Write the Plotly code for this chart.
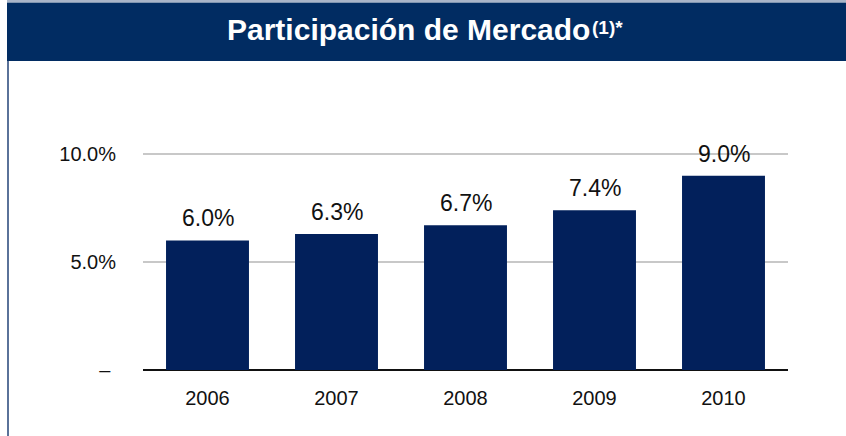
import plotly.graph_objects as go

# Participación de Mercado, 2006-2010
years = ["2006", "2007", "2008", "2009", "2010"]
share = [6.0, 6.3, 6.7, 7.4, 9.0]
labels = ["6.0%", "6.3%", "6.7%", "7.4%", "9.0%"]
y_ticks = [0, 5, 10]
y_tick_labels = ["–\u00a0", "5.0%", "10.0%"]

W, H = 846, 436
ML, MR, MT, MB = 143, 58, 153, 66
pw, ph = W - ML - MR, H - MT - MB


def px_x(p):
    return (p - ML) / pw


def px_y(p):
    return (H - MB - p) / ph


NAVY_BAR = "#02205b"
NAVY_HEAD = "#012c62"
FONT = "Liberation Sans, Arial, sans-serif"

fig = go.Figure()

fig.add_trace(go.Bar(
    x=years,
    y=share,
    marker=dict(color=NAVY_BAR, line=dict(width=0)),
    hoverinfo="skip",
    showlegend=False,
))

# valores encima de cada barra (x = indice de categoria)
for i, (v, t) in enumerate(zip(share, labels)):
    fig.add_annotation(
        x=i, y=v, text=t, showarrow=False,
        yanchor="bottom", yshift=7,
        font=dict(family=FONT, size=23, color="#111111"),
    )

# banda del titulo
fig.add_shape(type="rect", xref="paper", yref="paper",
              x0=px_x(7), x1=px_x(W + 2), y0=px_y(61), y1=px_y(2.5),
              fillcolor=NAVY_HEAD, line=dict(width=0), layer="below")
fig.add_shape(type="line", xref="paper", yref="paper",
              x0=px_x(7), x1=px_x(W + 2), y0=px_y(1), y1=px_y(1),
              line=dict(color="#a9b5c8", width=2))
# borde izquierdo
fig.add_shape(type="line", xref="paper", yref="paper",
              x0=px_x(8), x1=px_x(8), y0=px_y(61), y1=px_y(H + 2),
              line=dict(color="#5a7299", width=2))

fig.add_annotation(
    xref="paper", yref="paper", x=px_x(592), y=px_y(29),
    text="<b>Participación de Mercado</b>",
    showarrow=False, xanchor="right", yanchor="middle",
    font=dict(family=FONT, size=30, color="white"),
)
fig.add_annotation(
    xref="paper", yref="paper", x=px_x(590), y=px_y(27),
    text="<b>(1)*</b>",
    showarrow=False, xanchor="left", yanchor="middle",
    font=dict(family=FONT, size=19, color="white"),
)

fig.update_layout(
    width=W, height=H,
    margin=dict(l=ML, r=MR, t=MT, b=MB, pad=0),
    paper_bgcolor="white",
    plot_bgcolor="white",
    bargap=0.357,
    font=dict(family=FONT, size=20, color="#111111"),
    xaxis=dict(
        type="category", range=[-0.5, len(years) - 0.5],
        showgrid=False, showline=False, zeroline=False,
        ticks="", ticklabelstandoff=14,
        tickfont=dict(family=FONT, size=20, color="#111111"),
    ),
    yaxis=dict(
        range=[0, 10.05], tickvals=y_ticks, ticktext=y_tick_labels,
        showgrid=True, gridcolor="#c8c8c8", gridwidth=1.5,
        zeroline=True, zerolinecolor="#111111", zerolinewidth=1.5,
        showline=False, ticks="", ticklabelstandoff=26,
        tickfont=dict(family=FONT, size=20, color="#111111"),
    ),
)

fig.write_html("out.html", config={"displayModeBar": False},
               post_script="document.body.style.margin='0';")
